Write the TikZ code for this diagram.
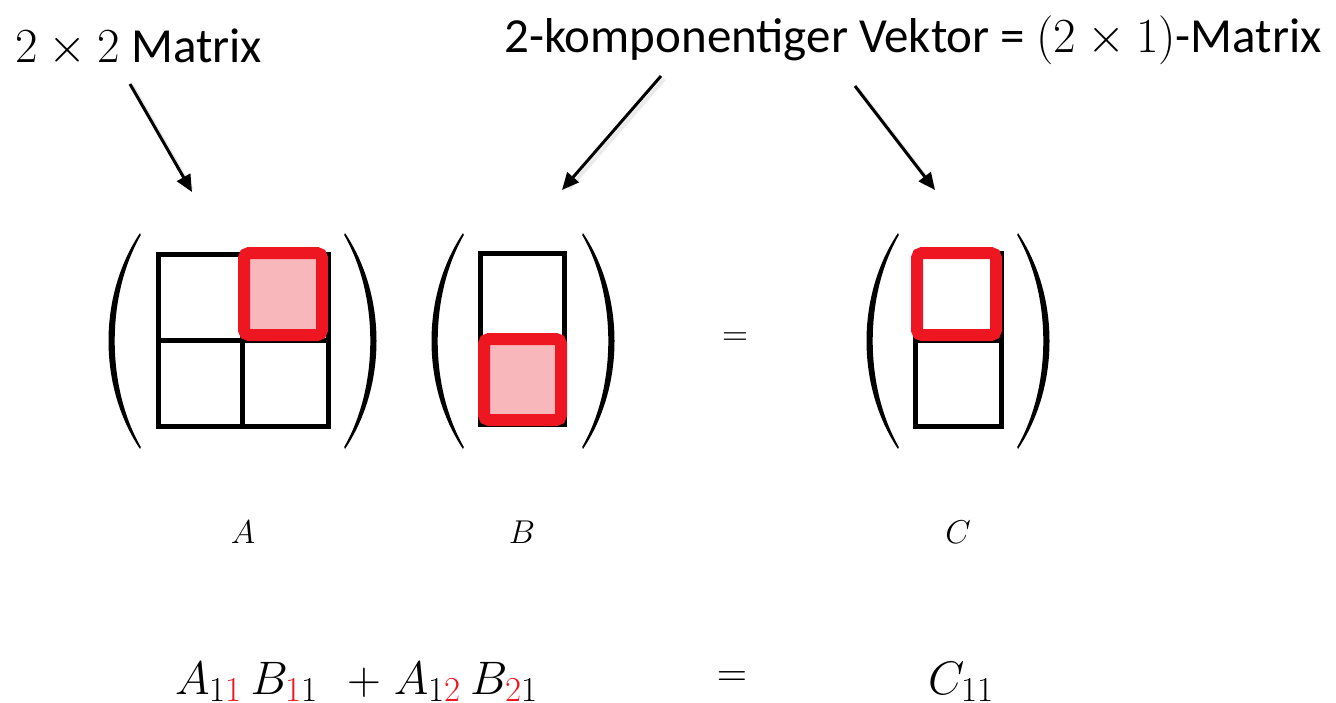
\RequirePackage{fix-cm}
\documentclass[tikz,border=0pt]{standalone}
\usepackage{fontspec}
\newfontfamily\calib{Carlito}
\usetikzlibrary{arrows.meta}
\definecolor{hlred}{HTML}{EE1620}
\definecolor{hlpink}{HTML}{F8B8BB}
\newcommand\subx[1]{\hbox{\fontsize{35}{40}\selectfont #1}}
\begin{document}
\begin{tikzpicture}[x=1pt,y=-1pt,
  grid/.style={draw=black,line width=5pt},
  hl/.style={draw=hlred,line width=12pt,rounded corners=5pt},
  arr/.style={line width=3pt,-{Triangle[length=17pt,width=15pt]}},
  shd/.style={line width=4pt,black!8,shorten >=6pt},
  lbl/.style={font=\calib\fontsize{49}{58}\selectfont,inner sep=0pt},
  mlbl/.style={font=\fontsize{33}{40}\selectfont,inner sep=0pt},
  eqs/.style={font=\fontsize{36}{42}\selectfont,inner sep=0pt},
  eqb/.style={font=\fontsize{42}{50}\selectfont,inner sep=0pt},
  frm/.style={font=\fontsize{47}{56}\selectfont,inner sep=0pt},
  lpar/.pic={\fill (0,-108) .. controls (-42,-45) and (-42,45) .. (0,108) -- (0.8,106) .. controls (-34,45) and (-34,-45) .. (0.8,-106) -- cycle;}
]
\useasboundingbox (0,0) rectangle (1336,702);
% top labels
\node[lbl,anchor=base west] (t1) at (15,62) {$2\times2$ Matrix};
\node[lbl,anchor=base east] (t2) at (1322,52) {2-komponentiger Vektor = $(2\times1)$-Matrix};
% arrows
\coordinate (a1s) at (130,84);  \coordinate (a1e) at (192,192);
\coordinate (a2s) at (661,76);  \coordinate (a2e) at (562,190);
\coordinate (a3s) at (855,86);  \coordinate (a3e) at (935,190);
\foreach \s/\e in {a1s/a1e,a2s/a2e,a3s/a3e}{
  \draw[shd] ([shift={(3,3)}]\s) -- ([shift={(3,3)}]\e);
  \draw[arr] (\s) -- (\e);
}
% matrix A
\draw[grid] (158,254) rectangle (328,426);
\draw[grid] (242,254) -- (242,426);
\draw[grid] (158,340) -- (328,340);
\filldraw[hl,fill=hlpink] (244,253) rectangle (322,335);
\pic at (140,341) {lpar};
\pic[xscale=-1] at (345,341) {lpar};
% matrix B
\draw[grid] (480.5,253.5) rectangle (564.5,424.5);
\filldraw[hl,fill=hlpink] (484,339) rectangle (561,420);
\pic at (463,341) {lpar};
\pic[xscale=-1] at (583,341) {lpar};
% matrix C
\draw[grid] (915.5,253.5) rectangle (1001.5,426.5);
\draw[grid] (915.5,340) -- (1001.5,340);
\draw[hl] (917,253) rectangle (996,335);
\pic at (898,341) {lpar};
\pic[xscale=-1] at (1018,341) {lpar};
% equals
\node[eqs] (eq1) at (735,339) {$=$};
% names
\node[mlbl,anchor=base] (la) at (243,543) {$A$};
\node[mlbl,anchor=base] (lb) at (522,543) {$B$};
\node[mlbl,anchor=base] (lc) at (958,543) {$C$};
% formula
\node[frm,anchor=base west] (f1) at (175,694) {$A_{\subx{1\textcolor{hlred}{1}}}\hspace{8.2pt}B_{\subx{\textcolor{hlred}{1}1}}\hspace{29pt}{+}\hspace{13pt}A_{\subx{1\textcolor{hlred}{2}}}\hspace{9pt}B_{\subx{\textcolor{hlred}{2}1}}$};
\node[eqb] (eq2) at (732,679) {$=$};
\node[frm,anchor=base west] (c11) at (928,694) {$C_{\subx{11}}$};
\end{tikzpicture}
\end{document}
